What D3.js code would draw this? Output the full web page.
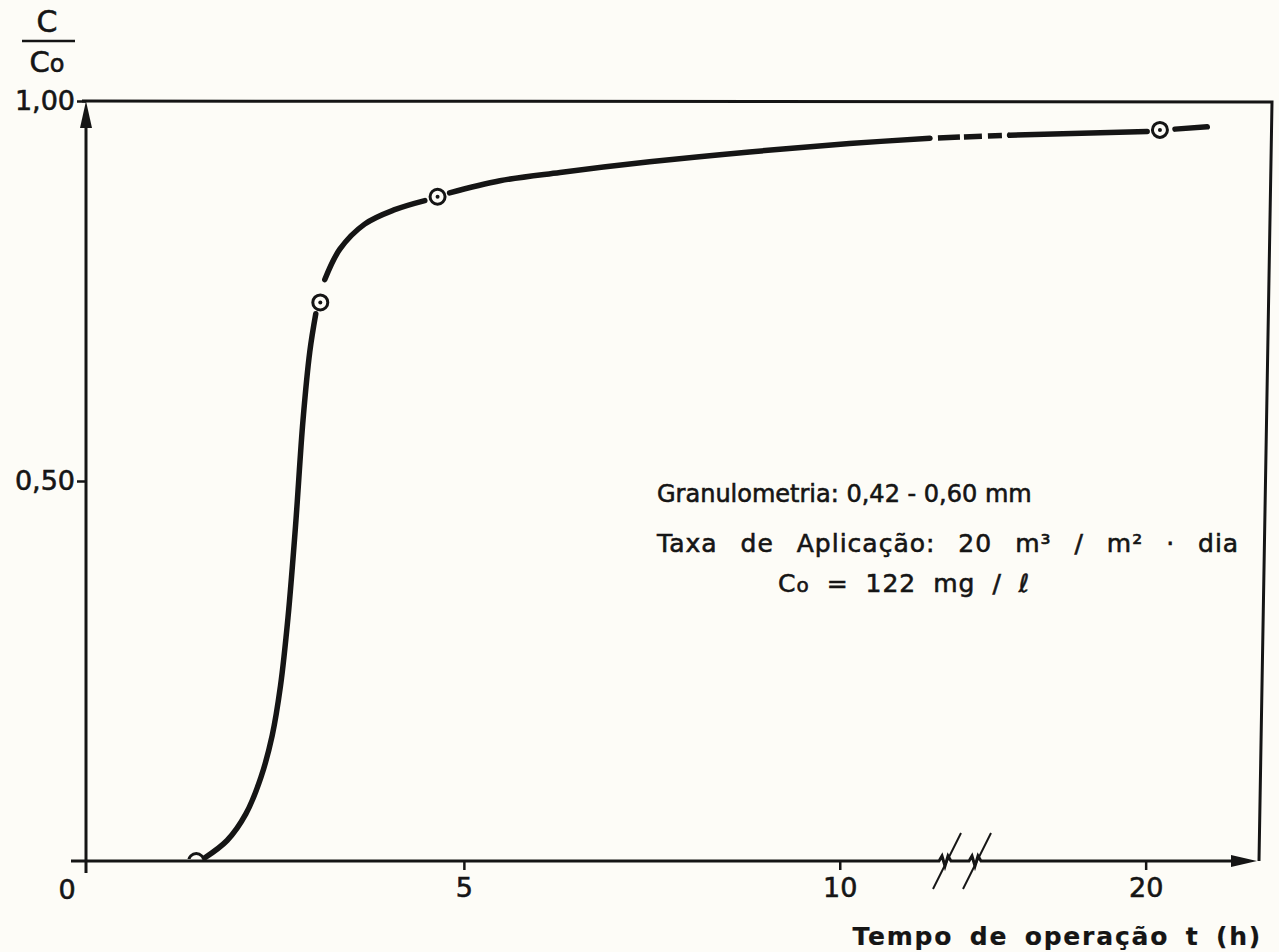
<!DOCTYPE html>
<html>
<head>
<meta charset="utf-8" />
<title>C/Co x tempo de operação</title>
<style>
    body { margin: 0; background: #fdfcf7; }
    svg text { font-family: "DejaVu Sans", sans-serif; fill: #151515; stroke: #151515; stroke-width: 0.6px; }
</style>
</head>
<body>
<svg width=1279 height=952></svg>

<script src="https://cdn.jsdelivr.net/npm/d3@7/dist/d3.min.js"></script>
<script>
// pontos medidos (t em h, C/Co)
var pontosT = [1.44, 3.09, 4.65, 20.19];
var pontosC = [0, 0.735, 0.874, 0.962];

// curva ajustada, trechos entre os pontos
var trechoSubida = [[1.55, 0.004], [1.85, 0.027], [2.1, 0.062], [2.3, 0.11], [2.45, 0.165],
    [2.56, 0.23], [2.66, 0.32], [2.76, 0.44], [2.86, 0.58], [2.95, 0.67], [3.03, 0.72]];
var trechoJoelho = [[3.15, 0.765], [3.35, 0.805], [3.68, 0.838], [4.08, 0.857], [4.48, 0.869]];
var trechoPatamar = [[4.81, 0.879], [5.48, 0.895], [6.28, 0.906], [7.47, 0.92], [8.8, 0.933],
    [10.13, 0.944], [11.2, 0.951]];
var trechoTracejado = [[11.2, 0.951], [18.19, 0.955]];
var trechoFinal = [[18.19, 0.955], [20.02, 0.96]];
var trechoPos = [[20.39, 0.963], [20.82, 0.966]];

var ticksX = [5, 10, 20];
var ticksY = [0.5, 1.0];
var rotulosY = ['0,50', '1,00'];
var quebra = [11.4, 17.73];

var svg = d3.select('svg');
var tinta = '#151515';

var x = d3.scaleLinear()
    .domain([0, quebra[0], quebra[1], 22])
    .range([88, 945, 975, 1296]);
var y = d3.scaleLinear().domain([0, 1]).range([861, 101]);

// moldura
svg.append('path')
    .attr('d', 'M82,101 L1272,102 L1259,861')
    .attr('fill', 'none').attr('stroke', tinta).attr('stroke-width', 3);

// eixo y
svg.append('line')
    .attr('x1', 86).attr('x2', 86).attr('y1', 873).attr('y2', 110)
    .attr('stroke', tinta).attr('stroke-width', 3);
svg.append('path')
    .attr('d', 'M86,101 L80,128 L92,128 Z').attr('fill', tinta);

var eixoY = svg.append('g')
    .attr('transform', 'translate(86,0)')
    .call(d3.axisLeft(y).tickValues(ticksY).tickSize(9).tickPadding(2)
        .tickFormat(function (d, i) { return rotulosY[i]; }));
eixoY.select('.domain').remove();
eixoY.selectAll('line').attr('stroke', tinta).attr('stroke-width', 2.5);
eixoY.selectAll('text').attr('font-size', 27).attr('fill', tinta);

// eixo x com quebra
var xq1 = x(quebra[0]), xq2 = x(quebra[1]);
function zigue(cx) {
    return 'L' + (cx - 6) + ',861 L' + (cx - 3) + ',856 L' + cx + ',866 L' + (cx + 3) + ',856 L' + (cx + 6) + ',861 ';
}
svg.append('path')
    .attr('d', 'M71,861 ' + zigue(xq1) + zigue(xq2) + 'L1236,861')
    .attr('fill', 'none').attr('stroke', tinta).attr('stroke-width', 3);
svg.append('path')
    .attr('d', 'M1257,861 L1231,855 L1231,867 Z').attr('fill', tinta);
[xq1, xq2].forEach(function (cx) {
    svg.append('line')
        .attr('x1', cx - 12).attr('y1', 889).attr('x2', cx + 16).attr('y2', 833)
        .attr('stroke', tinta).attr('stroke-width', 2);
});

var eixoX = svg.append('g')
    .attr('transform', 'translate(0,861)')
    .call(d3.axisBottom(x).tickValues(ticksX).tickSize(9).tickPadding(8)
        .tickFormat(function (d) { return d; }));
eixoX.select('.domain').remove();
eixoX.selectAll('line').attr('stroke', tinta).attr('stroke-width', 2.5);
eixoX.selectAll('text').attr('font-size', 27).attr('fill', tinta);

svg.append('text').attr('x', 67).attr('y', 899)
    .attr('text-anchor', 'middle').attr('font-size', 27).text('0');

// titulos dos eixos
svg.append('text').attr('x', 47).attr('y', 32)
    .attr('text-anchor', 'middle').attr('font-size', 30).text('C');
svg.append('line').attr('x1', 22).attr('x2', 75).attr('y1', 41).attr('y2', 41)
    .attr('stroke', tinta).attr('stroke-width', 2.5);
var co = svg.append('text').attr('x', 47).attr('y', 72)
    .attr('text-anchor', 'middle').attr('font-size', 29);
co.append('tspan').text('C');
co.append('tspan').attr('font-size', 24).text('o');

svg.append('text').attr('x', 1262).attr('y', 945)
    .attr('text-anchor', 'end').attr('font-size', 25).attr('font-weight', 'bold')
    .attr('letter-spacing', 1.8).attr('word-spacing', 6).style('stroke-width', '0.2px')
    .text('Tempo de operação t (h)');

// anotacao
svg.append('text').attr('x', 657).attr('y', 502).attr('font-size', 24)
    .text('Granulometria: 0,42 - 0,60 mm');
svg.append('text').attr('x', 657).attr('y', 552).attr('font-size', 25)
    .attr('letter-spacing', 1).attr('word-spacing', 14)
    .text('Taxa de Aplicação: 20 m³ / m² · dia');
var co2 = svg.append('text').attr('x', 778).attr('y', 592).attr('font-size', 25)
    .attr('word-spacing', 8).attr('letter-spacing', 1);
co2.append('tspan').text('C');
co2.append('tspan').attr('font-size', 20).text('o');
co2.append('tspan').text(' = 122 mg / ℓ');

// curva
var linha = d3.line()
    .x(function (d) { return x(d[0]); })
    .y(function (d) { return y(d[1]); })
    .curve(d3.curveCatmullRom);

[trechoSubida, trechoJoelho, trechoPatamar, trechoFinal, trechoPos].forEach(function (t) {
    svg.append('path').datum(t).attr('d', linha)
        .attr('fill', 'none').attr('stroke', tinta).attr('stroke-width', 5.5)
        .attr('stroke-linecap', 'round');
});
svg.append('path').datum(trechoTracejado).attr('d', d3.line()
        .x(function (d) { return x(d[0]); })
        .y(function (d) { return y(d[1]); }))
    .attr('fill', 'none').attr('stroke', tinta).attr('stroke-width', 5.5)
    .attr('stroke-dasharray', '0,8,22,4,18,6,14,6,30');

// marcadores
svg.append('clipPath').attr('id', 'area')
    .append('rect').attr('x', 0).attr('y', 0).attr('width', 1279).attr('height', 859);

var pontos = pontosT.map(function (t, i) { return { t: t, c: pontosC[i] }; });
var marcas = svg.append('g').attr('clip-path', 'url(#area)')
    .selectAll('g').data(pontos).enter().append('g')
    .attr('transform', function (d) { return 'translate(' + x(d.t) + ',' + y(d.c) + ')'; });
marcas.append('circle').attr('r', 7.5)
    .attr('fill', '#fdfcf7').attr('stroke', tinta).attr('stroke-width', 3);
marcas.append('circle').attr('r', 2).attr('fill', tinta);
</script>
</body>
</html>
